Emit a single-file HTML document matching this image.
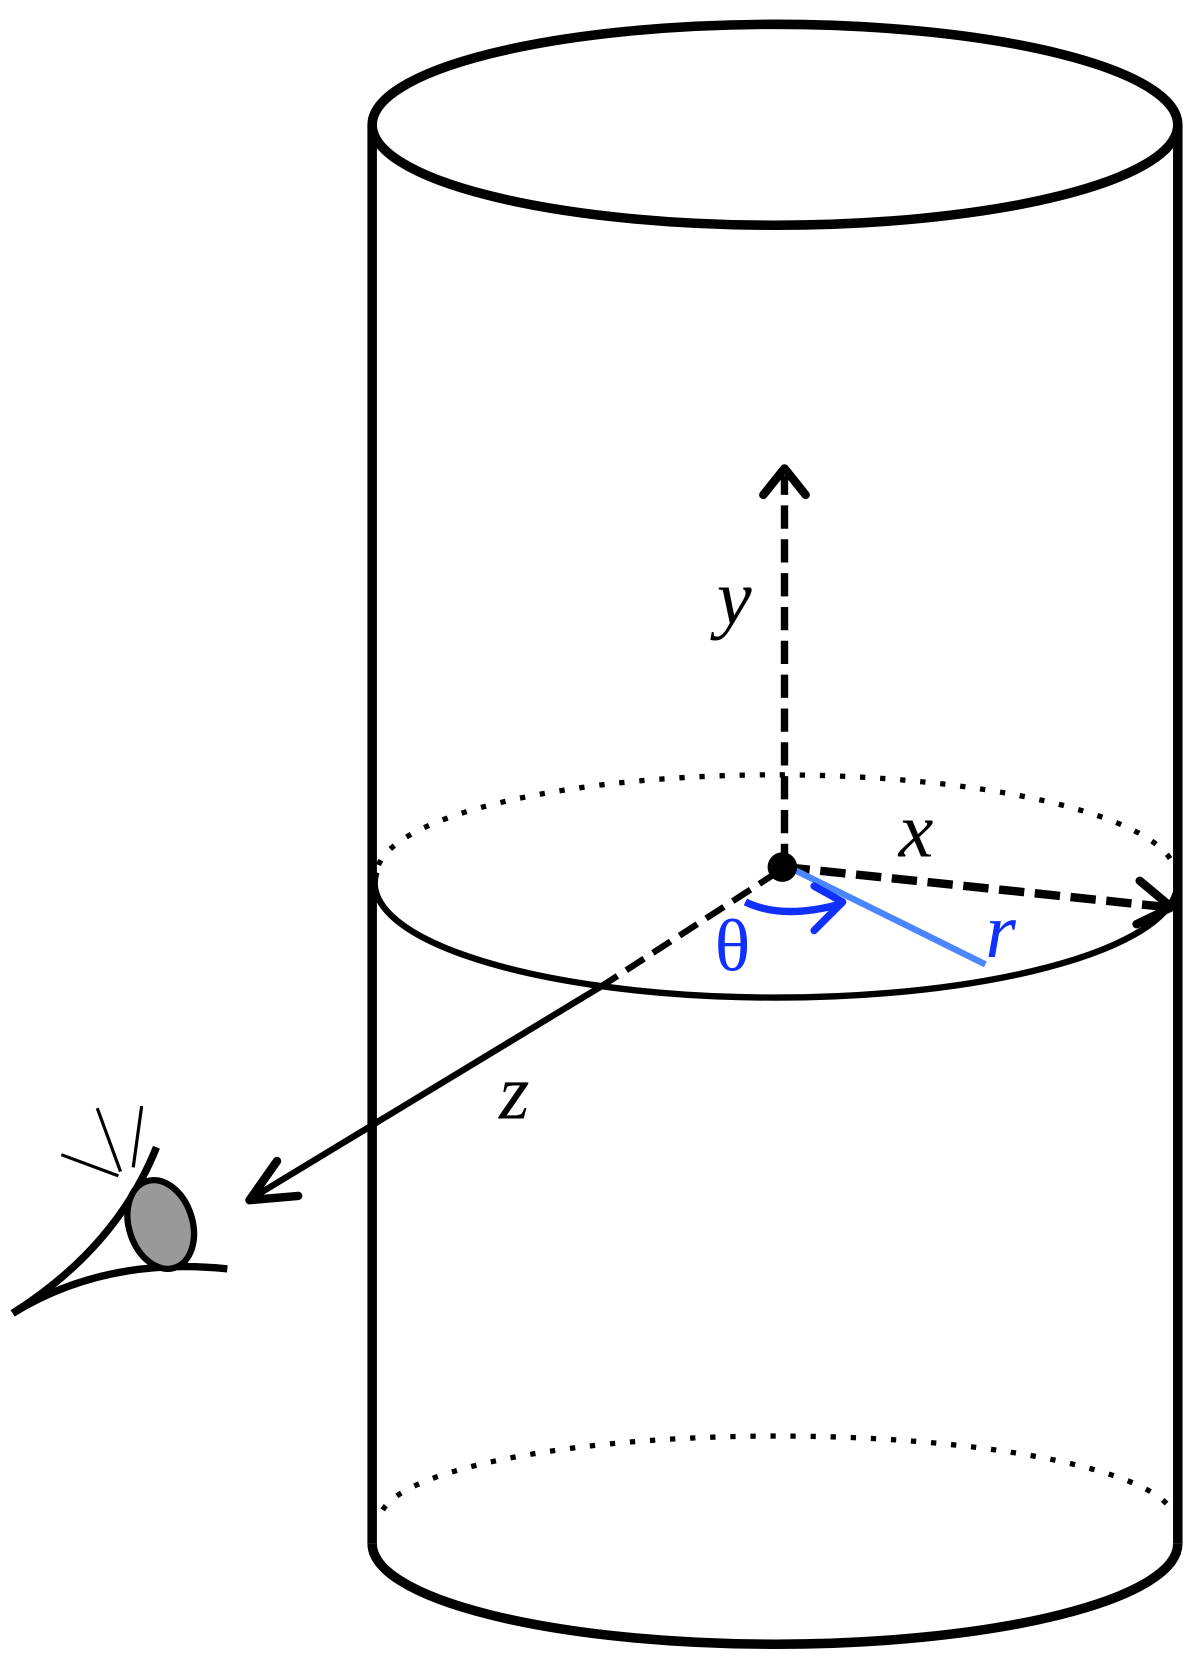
<!DOCTYPE html>
<html><head><style>html,body{margin:0;padding:0;background:#fff}svg{display:block}
.lab{font-family:"Liberation Serif",serif;font-style:italic;font-size:74px}
</style></head>
<body>
<svg width="1200" height="1658" viewBox="0 0 1135 1568" preserveAspectRatio="none" xmlns="http://www.w3.org/2000/svg">
<g fill="none" stroke="#000" stroke-linecap="butt">
<ellipse cx="733" cy="118" rx="381" ry="95" stroke-width="9"/>
<line x1="352" y1="118" x2="352" y2="1460" stroke-width="9"/>
<line x1="1114" y1="118" x2="1114" y2="1460" stroke-width="9"/>
<path d="M352 1460 A381 95 0 0 0 1114 1460" stroke-width="9"/>
<path d="M362 1428 A376 80 0 0 1 1108 1428" stroke-width="5" stroke-dasharray="5 14"/>
<path d="M358 818 A378 95 0 0 1 1110 818" stroke-width="5" stroke-dasharray="5 14"/>
<path d="M356 825 A378 108 0 0 0 1112 845" stroke-width="6"/>
<line x1="742" y1="820" x2="742" y2="450" stroke-width="7" stroke-dasharray="22 10"/>
<polyline points="722,468 742,443 762,468" stroke-width="8" stroke-linecap="round" stroke-linejoin="round"/>
<line x1="742" y1="820" x2="1105" y2="858" stroke-width="8" stroke-dasharray="24 10"/>
<polyline points="1078,833 1108,858 1075,874" stroke-width="8" stroke-linecap="round" stroke-linejoin="round"/>
<line x1="735" y1="825" x2="570" y2="932" stroke-width="6" stroke-dasharray="20 10"/>
<line x1="570" y1="932" x2="240" y2="1132" stroke-width="6"/>
<polyline points="262,1098 236,1135 282,1131" stroke-width="8" stroke-linecap="round" stroke-linejoin="round"/>
</g>
<line x1="752" y1="823" x2="932" y2="912" stroke="#4a86ff" stroke-width="6"/>
<path d="M705 853 Q740 870 795 855" fill="none" stroke="#1030ff" stroke-width="7"/>
<polyline points="770,838 797,853 770,880" fill="none" stroke="#1030ff" stroke-width="7" stroke-linecap="round" stroke-linejoin="round"/>
<circle cx="740" cy="820" r="14" fill="#000"/>
<text class="lab" x="678" y="590">y</text>
<text class="lab" x="850" y="810">x</text>
<text class="lab" x="472" y="1058">z</text>
<text class="lab" x="932" y="905" fill="#1030ff">r</text>
<text x="676" y="918" style="font-family:'Liberation Serif',serif;font-size:70px" fill="#1030ff">θ</text>
<g stroke="#000" fill="none">
<path d="M12 1242 Q110 1180 148 1085" stroke-width="7"/>
<path d="M12 1242 Q100 1188 215 1200" stroke-width="7"/>
<ellipse cx="152" cy="1158" rx="30" ry="43" transform="rotate(-18 152 1158)" fill="#999" stroke-width="6"/>
<line x1="58" y1="1092" x2="112" y2="1112" stroke-width="3"/>
<line x1="92" y1="1048" x2="114" y2="1108" stroke-width="3"/>
<line x1="134" y1="1046" x2="126" y2="1104" stroke-width="3"/>
</g>
</svg>
</body></html>
